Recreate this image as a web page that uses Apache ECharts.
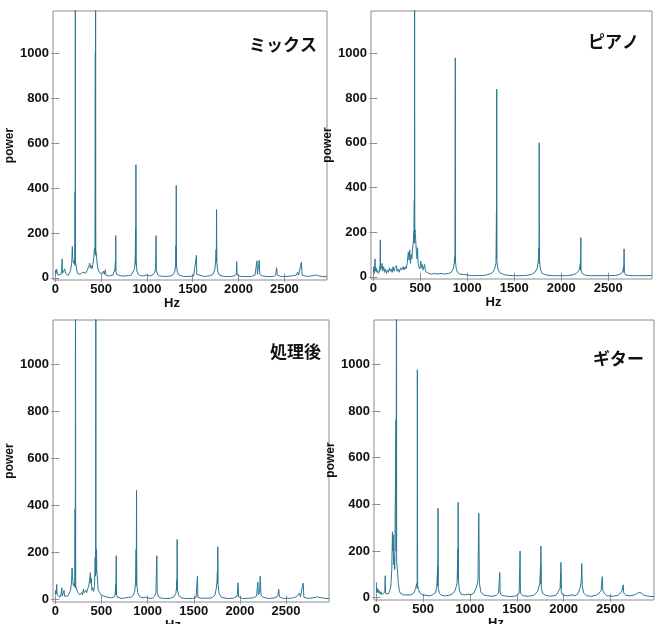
<!DOCTYPE html>
<html>
<head>
<meta charset="utf-8">
<script src="https://cdn.jsdelivr.net/npm/echarts@6/dist/echarts.min.js"></script>
<style>
  html, body { margin: 0; padding: 0; background: #fff; }
  #chart { width: 662px; height: 624px; }
</style>
</head>
<body>
<div id="chart"></div>
<script>
// ---- data: [Hz, power] samples ----
const panelTitles = ['ミックス', 'ピアノ', '処理後', 'ギター'];
const xTickValues = [0, 500, 1000, 1500, 2000, 2500];
const yTickValues = [0, 200, 400, 600, 800, 1000];

const mixData = [[0,15],[5,35],[10,20],[15,38],[20,25],[25,30],[30,12],[40,18],[50,10],[60,15],[70,30],[75,84],[78,20],[85,15],[95,30],[100,40],[107,45],[112,20],[120,15],[130,12],[140,10],[150,15],[160,25],[170,40],[180,70],[186,140],[190,90],[200,65],[210,80],[214,60],[216,385],[217,55],[219,1500],[221,70],[226,75],[232,40],[240,20],[250,15],[260,12],[270,15],[280,20],[290,15],[300,25],[310,20],[320,18],[330,20],[340,25],[350,35],[360,40],[370,55],[376,65],[382,45],[390,55],[400,40],[410,60],[420,90],[428,130],[434,110],[437,1005],[438,100],[440,1500],[442,120],[448,110],[455,70],[465,40],[475,30],[490,20],[505,25],[515,20],[525,30],[535,15],[545,35],[555,10],[570,15],[590,8],[610,10],[630,12],[645,20],[652,40],[656,70],[657,30],[660,188],[662,30],[670,15],[690,8],[720,8],[760,8],[800,10],[830,12],[850,20],[865,40],[872,80],[877,215],[878,60],[880,504],[882,80],[890,30],[905,15],[930,10],[960,8],[990,12],[1010,8],[1040,8],[1070,15],[1085,25],[1095,40],[1100,188],[1103,35],[1115,15],[1140,8],[1180,6],[1220,6],[1260,8],[1290,15],[1305,30],[1314,60],[1317,145],[1318,50],[1320,412],[1322,60],[1332,25],[1350,12],[1400,6],[1460,6],[1510,8],[1530,15],[1540,100],[1544,15],[1560,8],[1620,6],[1680,8],[1720,15],[1740,35],[1750,70],[1755,125],[1757,70],[1760,304],[1763,70],[1772,30],[1790,12],[1840,6],[1900,5],[1950,8],[1975,15],[1980,72],[1984,12],[2020,6],[2080,5],[2140,6],[2180,12],[2200,75],[2206,15],[2218,20],[2225,78],[2232,15],[2260,8],[2320,5],[2380,6],[2405,12],[2415,45],[2422,12],[2460,6],[2540,6],[2600,10],[2630,12],[2645,25],[2655,12],[2672,15],[2686,70],[2693,12],[2740,6],[2790,8],[2820,10],[2850,12],[2880,8],[2920,5],[2965,5]];

const pianoData = [[0,20],[5,45],[10,15],[18,80],[22,25],[30,40],[38,20],[45,30],[55,15],[65,25],[72,60],[74,165],[76,30],[85,40],[95,60],[100,25],[110,45],[120,20],[130,35],[140,15],[150,30],[160,20],[170,40],[180,25],[190,35],[200,20],[210,45],[220,25],[230,40],[246,50],[252,25],[265,35],[275,20],[290,40],[300,30],[317,45],[325,30],[340,45],[350,35],[360,60],[372,110],[380,75],[387,120],[395,60],[402,100],[410,80],[418,130],[425,150],[430,200],[434,215],[436,340],[437,150],[439,1500],[441,200],[444,210],[450,170],[458,110],[465,80],[470,130],[476,60],[485,45],[495,35],[505,70],[512,40],[520,55],[530,30],[545,55],[555,25],[570,20],[590,15],[620,12],[650,15],[680,12],[720,15],[760,12],[800,15],[830,20],[850,35],[860,60],[866,90],[868,60],[872,980],[874,70],[882,35],[895,20],[920,12],[960,10],[1000,8],[1040,5],[1080,5],[1120,6],[1160,5],[1200,8],[1240,12],[1270,20],[1290,35],[1305,60],[1310,290],[1311,80],[1313,840],[1315,70],[1325,35],[1345,18],[1385,10],[1440,6],[1500,5],[1560,5],[1620,6],[1680,10],[1720,20],[1745,40],[1755,70],[1762,130],[1763,60],[1765,600],[1767,80],[1777,35],[1795,15],[1840,8],[1900,5],[1980,5],[2060,5],[2120,8],[2160,15],[2190,30],[2203,60],[2204,30],[2208,175],[2210,30],[2222,15],[2260,6],[2320,5],[2400,5],[2500,5],[2580,6],[2630,12],[2655,25],[2664,45],[2665,20],[2668,125],[2671,20],[2686,8],[2740,5],[2800,5],[2900,5],[2965,5]];

const processedData = [[0,20],[5,40],[10,25],[15,65],[20,20],[30,15],[40,25],[50,10],[60,20],[70,50],[75,15],[85,20],[95,40],[100,15],[110,20],[120,10],[135,15],[150,20],[165,40],[175,70],[182,135],[186,100],[195,60],[205,70],[212,55],[215,385],[216,50],[219,1500],[221,60],[226,60],[235,40],[245,30],[255,35],[265,20],[275,25],[285,30],[295,20],[305,45],[312,30],[322,35],[330,40],[340,30],[350,45],[360,55],[370,80],[380,115],[384,70],[390,90],[396,40],[405,50],[415,35],[425,60],[432,180],[436,100],[439,1500],[441,110],[446,215],[450,120],[458,80],[465,40],[480,30],[495,20],[510,25],[525,15],[545,12],[570,10],[600,8],[630,10],[648,20],[655,65],[656,20],[660,187],[663,20],[675,10],[720,5],[760,8],[790,10],[820,10],[845,18],[862,40],[870,80],[876,215],[877,60],[880,465],[883,70],[892,30],[910,15],[940,8],[980,10],[1010,6],[1050,6],[1075,15],[1090,30],[1100,187],[1104,30],[1118,12],[1150,6],[1200,5],[1250,6],[1285,12],[1305,25],[1314,50],[1317,85],[1318,40],[1320,256],[1323,45],[1335,20],[1360,8],[1420,5],[1490,5],[1525,10],[1540,101],[1544,10],[1580,6],[1640,6],[1700,8],[1730,20],[1745,50],[1752,80],[1756,120],[1757,70],[1760,225],[1764,60],[1775,25],[1800,10],[1860,5],[1930,6],[1970,15],[1980,72],[1985,12],[2030,5],[2090,6],[2150,8],[2180,15],[2194,75],[2200,20],[2212,30],[2220,100],[2228,20],[2250,10],[2310,5],[2380,8],[2410,15],[2420,45],[2428,12],[2470,5],[2560,6],[2610,12],[2645,28],[2655,12],[2672,15],[2685,70],[2693,10],[2740,5],[2800,8],[2840,12],[2880,8],[2930,5],[2965,5]];

const guitarData = [[0,65],[3,20],[8,40],[12,25],[18,35],[25,20],[32,30],[40,15],[50,25],[60,12],[70,15],[80,20],[90,25],[95,94],[98,20],[110,15],[125,15],[140,25],[155,50],[165,120],[172,282],[176,200],[180,270],[186,140],[192,180],[196,120],[210,763],[211,200],[215,1500],[217,150],[225,120],[235,60],[246,30],[255,20],[270,15],[290,12],[310,20],[320,12],[340,10],[370,12],[400,20],[420,40],[430,60],[436,40],[438,977],[441,55],[450,35],[465,20],[490,12],[530,10],[570,8],[600,12],[630,20],[645,45],[655,135],[656,50],[659,383],[662,40],[673,18],[695,10],[735,8],[775,10],[810,15],[840,30],[862,60],[871,210],[872,80],[874,408],[877,70],[888,30],[905,15],[940,12],[980,15],[1010,12],[1040,20],[1065,40],[1085,70],[1094,362],[1100,65],[1115,25],[1145,12],[1190,8],[1240,6],[1280,10],[1305,20],[1318,108],[1322,20],[1340,10],[1390,6],[1440,5],[1500,8],[1525,20],[1535,200],[1539,20],[1565,8],[1620,6],[1680,10],[1720,25],[1745,60],[1754,140],[1755,60],[1757,221],[1762,40],[1777,18],[1805,10],[1860,6],[1920,10],[1962,40],[1968,105],[1969,40],[1971,151],[1975,25],[1995,10],[2040,8],[2090,12],[2120,8],[2150,15],[2175,40],[2188,70],[2194,146],[2199,50],[2214,20],[2245,8],[2300,6],[2360,12],[2400,30],[2413,90],[2418,30],[2433,20],[2460,8],[2520,6],[2580,10],[2620,25],[2636,55],[2642,20],[2665,10],[2710,8],[2760,12],[2800,22],[2830,20],[2860,10],[2920,5],[2965,5]];

const panelData = [mixData, pianoData, processedData, guitarData];

// ---- layout ----
const grids = [
  { left: 53, top: 11, width: 274, height: 269 },
  { left: 371, top: 11, width: 281, height: 268 },
  { left: 53, top: 320, width: 276, height: 282 },
  { left: 374, top: 320, width: 280, height: 280 }
];
const titlePos = [
  { right: 345, top: 36 },
  { right: 23, top: 33 },
  { right: 341, top: 343 },
  { right: 18, top: 350 }
];

const X_MIN = -25, X_MAX = 2965, Y_MIN = -10, Y_MAX = 1190;
const frameColor = '#8c8c8c';
const labelFont = { color: '#111', fontWeight: 'bold', fontSize: 13, fontFamily: 'Liberation Sans, Arial, sans-serif' };
const plain = v => String(v);

const xAxes = [], yAxes = [], series = [], titles = [];
grids.forEach((g, i) => {
  xAxes.push({
    type: 'value', gridIndex: i, position: 'bottom', min: X_MIN, max: X_MAX,
    name: 'Hz', nameLocation: 'middle', nameGap: 14,
    nameTextStyle: Object.assign({}, labelFont, { padding: [0, 36, 0, 0] }),
    axisLine: { show: false },
    axisTick: { show: true, inside: true, length: 4, customValues: xTickValues, lineStyle: { color: frameColor } },
    axisLabel: Object.assign({ customValues: xTickValues, margin: 3, formatter: plain }, labelFont),
    splitLine: { show: false }
  });
  xAxes.push({
    type: 'value', gridIndex: i, position: 'top', min: X_MIN, max: X_MAX,
    axisLine: { show: false },
    axisTick: { show: true, inside: true, length: 4, customValues: xTickValues, lineStyle: { color: frameColor } },
    axisLabel: { show: false }, splitLine: { show: false }
  });
  yAxes.push({
    type: 'value', gridIndex: i, position: 'left', min: Y_MIN, max: Y_MAX,
    name: 'power', nameLocation: 'middle', nameGap: 27,
    nameTextStyle: Object.assign({}, labelFont, { fontSize: 12 }),
    axisLine: { show: false },
    axisTick: { show: true, inside: true, length: 4, customValues: yTickValues, lineStyle: { color: frameColor } },
    axisLabel: Object.assign({ customValues: yTickValues, margin: 4, formatter: plain }, labelFont),
    splitLine: { show: false }
  });
  yAxes.push({
    type: 'value', gridIndex: i, position: 'right', min: Y_MIN, max: Y_MAX,
    axisLine: { show: false },
    axisTick: { show: true, inside: true, length: 4, customValues: yTickValues, lineStyle: { color: frameColor } },
    axisLabel: { show: false }, splitLine: { show: false }
  });
  series.push({
    type: 'line', xAxisIndex: 2 * i, yAxisIndex: 2 * i,
    data: panelData[i], showSymbol: false, symbol: 'none', clip: true,
    sampling: null, smooth: false,
    lineStyle: { color: '#2a7893', width: 1 }
  });
  titles.push({
    text: panelTitles[i], right: titlePos[i].right, top: titlePos[i].top, padding: 0,
    textStyle: { fontFamily: 'Noto Sans CJK JP', fontWeight: 'bold', fontSize: 17, color: '#111' }
  });
});

const chart = echarts.init(document.getElementById('chart'), null, { renderer: 'canvas' });
chart.setOption({
  animation: false,
  backgroundColor: '#fff',
  title: titles,
  grid: grids.map(g => Object.assign({
    show: true, borderColor: frameColor, borderWidth: 1, backgroundColor: 'transparent',
    containLabel: false, outerBoundsMode: 'none'
  }, g)),
  xAxis: xAxes,
  yAxis: yAxes,
  series: series
});
</script>
</body>
</html>
